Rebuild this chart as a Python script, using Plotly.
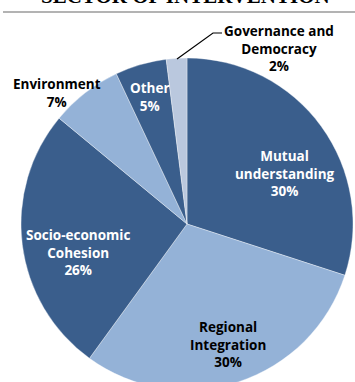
import plotly.graph_objects as go

# Share of projects by sector of intervention (%)
sectors = ["Mutual understanding", "Regional Integration", "Socio-economic Cohesion",
           "Environment", "Other", "Governance and Democracy"]
shares = [30, 30, 26, 7, 5, 2]
label_lines = [["Mutual", "understanding"], ["Regional", "Integration"],
               ["Socio-economic", "Cohesion"], ["Environment"], ["Other"],
               ["Governance and", "Democracy"]]

DARK, LIGHT, PALE = "#3A5E8C", "#94B2D7", "#BAC8DE"
slice_colors = [DARK, LIGHT, DARK, LIGHT, DARK, PALE]
text_colors = ["white", "black", "white", "black", "white", "black"]

W, H = 355, 400
CX, CY, R = 187, 224, 166  # pie centre and radius in pixels (from top-left)

def px(x):
    return x / W

def py(y):
    return 1 - y / H

fig = go.Figure(go.Pie(
    labels=sectors,
    values=shares,
    sort=False,
    direction="clockwise",
    rotation=0,
    marker=dict(colors=slice_colors, line=dict(color="rgba(255,255,255,0.6)", width=0.6)),
    textinfo="none",
    hoverinfo="label+percent",
    showlegend=False,
    domain=dict(x=[px(CX - R), px(CX + R)], y=[py(CY + R), py(CY - R)]),
))

# label centre points (pixels)
label_pos = [(285, 173), (228, 344), (78, 253), (57, 93), (150, 97), (279, 48)]
FONT = "Open Sans"
for lines, val, col, (x, y) in zip(label_lines, shares, text_colors, label_pos):
    txt = "<br>".join(f"<b>{s}</b>" for s in lines + [f"{val}%"])
    fig.add_annotation(x=px(x), y=py(y), xref="paper", yref="paper",
                       xanchor="center", yanchor="middle",
                       text=txt, showarrow=False, align="center",
                       font=dict(family=FONT, size=13.5, color=col))

# leader line to the smallest slice
fig.add_shape(type="path", xref="paper", yref="paper",
              path=f"M {px(177)} {py(59)} L {px(213)} {py(33)} L {px(222)} {py(33)}",
              line=dict(color="black", width=1.2))

# chart heading (partly above the page top) and its rule
fig.add_annotation(x=px(185), y=py(10), xref="paper", yref="paper",
                   xanchor="center", yanchor="bottom",
                   text="<b>SECTOR OF INTERVENTION</b>", showarrow=False,
                   font=dict(family="Liberation Serif", size=21, color="black"))
fig.add_shape(type="line", xref="paper", yref="paper",
              x0=px(3), x1=px(355), y0=py(12), y1=py(12),
              line=dict(color="#9A9A9A", width=1.5))

fig.update_layout(width=W, height=H, margin=dict(l=0, r=0, t=0, b=0),
                  paper_bgcolor="white", plot_bgcolor="white")

fig.write_html("out.html", post_script="document.body.style.overflow='hidden';document.body.style.margin='0';")
